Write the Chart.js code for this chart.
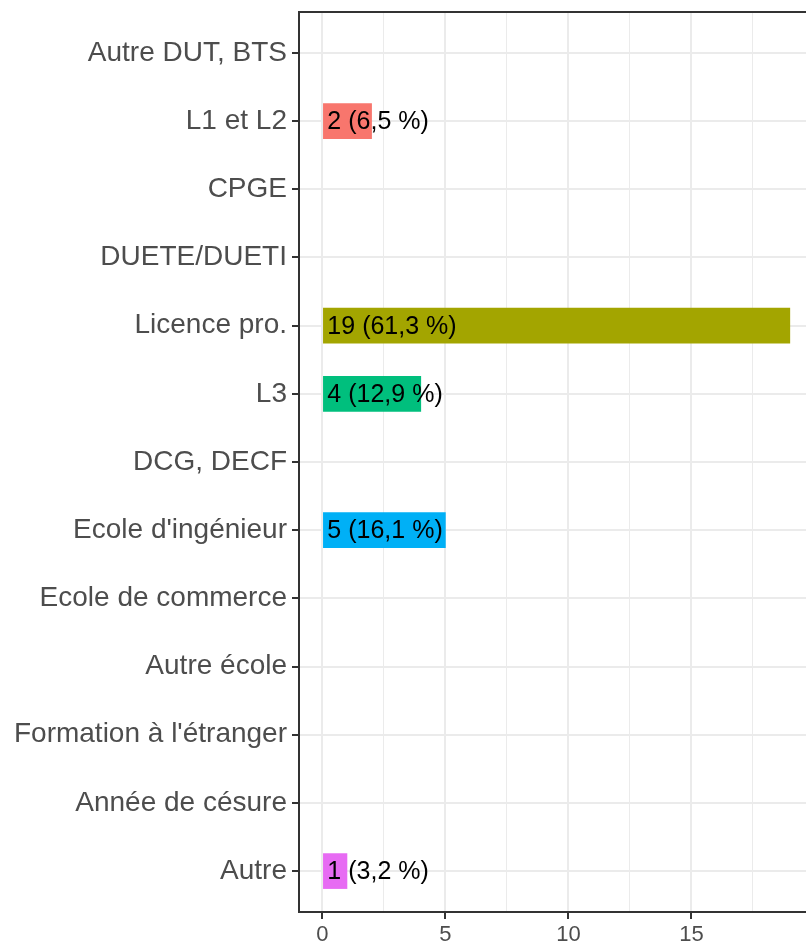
<!DOCTYPE html>
<html lang="fr">
<head>
  <meta charset="UTF-8">
  <title>Poursuite d'études</title>
  <script src="https://cdn.jsdelivr.net/npm/chart.js"></script>
  <style>
    html, body {
      margin: 0;
      padding: 0;
      background: #ffffff;
      overflow: hidden;
    }
    .chart-container {
      width: 814px;
      height: 952px;
    }
  </style>
</head>
<body>
  <div class="chart-container">
    <canvas id="barChart"></canvas>
  </div>

  <script>
    // categories, du haut vers le bas
    const categories = [
      'Autre DUT, BTS', 'L1 et L2', 'CPGE', 'DUETE/DUETI', 'Licence pro.', 'L3',
      'DCG, DECF', "Ecole d'ingénieur", 'Ecole de commerce', 'Autre école',
      "Formation à l'étranger", 'Année de césure', 'Autre'
    ];
    const counts = [0, 2, 0, 0, 19, 4, 0, 5, 0, 0, 0, 0, 1];
    const barColors = [
      '#F8766D', '#F8766D', '#F8766D', '#F8766D', '#A3A500', '#00BF7D',
      '#00B0F6', '#00B0F6', '#00B0F6', '#00B0F6', '#00B0F6', '#00B0F6', '#E76BF3'
    ];
    const xTicks = [0, 2.5, 5, 7.5, 10, 12.5, 15, 17.5];

    const total = counts.reduce((a, b) => a + b, 0);
    const fontFamily = '"Liberation Sans", Arial, Helvetica, sans-serif';

    // les categories vides n'ont pas de barre
    const points = counts.map((v, i) => ({ x: v === 0 ? null : v, y: i }));

    // etiquettes "n (xx,x %)"
    const labelPlugin = {
      id: 'barLabels',
      afterDatasetsDraw(chart) {
        const { ctx, scales } = chart;
        ctx.save();
        ctx.font = '25px ' + fontFamily;
        ctx.fillStyle = '#000000';
        ctx.textAlign = 'left';
        ctx.textBaseline = 'middle';
        counts.forEach((v, i) => {
          if (v === 0) return;
          const pct = (v / total * 100).toFixed(1).replace('.', ',');
          const x = scales.x.getPixelForValue(0) + 5;
          const y = scales.y.getPixelForValue(i) + 1;
          ctx.fillText(v + ' (' + pct + ' %)', x, y);
        });
        ctx.restore();
      }
    };

    // cadre du panneau
    const borderPlugin = {
      id: 'panelBorder',
      afterDatasetsDraw(chart) {
        const a = chart.chartArea;
        const ctx = chart.ctx;
        ctx.save();
        ctx.strokeStyle = '#333333';
        ctx.lineWidth = 2;
        ctx.strokeRect(a.left, a.top, a.right - a.left, a.bottom - a.top);
        ctx.restore();
      }
    };

    const ctx = document.getElementById('barChart').getContext('2d');
    new Chart(ctx, {
      type: 'bar',
      data: {
        datasets: [{
          data: points,
          backgroundColor: barColors,
          borderWidth: 0,
          barThickness: 35
        }]
      },
      options: {
        indexAxis: 'y',
        responsive: true,
        maintainAspectRatio: false,
        animation: false,
        layout: {
          padding: { top: 12, right: 4, left: 0, bottom: 0 }
        },
        plugins: {
          legend: { display: false },
          tooltip: { enabled: false }
        },
        scales: {
          x: {
            type: 'linear',
            min: -0.95,
            max: 19.82,
            afterBuildTicks(scale) {
              scale.ticks = xTicks.map(v => ({ value: v }));
            },
            afterFit(scale) {
              scale.height = 40;
              scale.paddingLeft = 0;
              scale.paddingRight = 0;
            },
            border: { display: false },
            grid: {
              color: '#EBEBEB',
              lineWidth: c => (c.tick && c.tick.value % 5 === 0) ? 2 : 1,
              tickColor: c => (c.tick && c.tick.value % 5 === 0) ? '#333333' : 'rgba(0,0,0,0)',
              tickWidth: 2,
              tickLength: 7
            },
            ticks: {
              color: '#4D4D4D',
              font: { family: fontFamily, size: 22 },
              padding: 3,
              maxRotation: 0,
              autoSkip: false,
              callback: v => (v % 5 === 0 ? String(v) : '')
            }
          },
          y: {
            type: 'linear',
            reverse: true,
            offset: false,
            min: -0.6,
            max: categories.length - 0.4,
            afterBuildTicks(scale) {
              scale.ticks = categories.map((_, i) => ({ value: i }));
            },
            afterFit(scale) {
              scale.width = 299;
              scale.paddingTop = 0;
              scale.paddingBottom = 0;
            },
            border: { display: false },
            grid: {
              offset: false,
              color: '#EBEBEB',
              lineWidth: 2,
              tickColor: '#333333',
              tickWidth: 2,
              tickLength: 7
            },
            ticks: {
              color: '#4D4D4D',
              font: { family: fontFamily, size: 28 },
              padding: 5,
              autoSkip: false,
              callback: v => categories[v]
            }
          }
        }
      },
      plugins: [labelPlugin, borderPlugin]
    });
  </script>
</body>
</html>
